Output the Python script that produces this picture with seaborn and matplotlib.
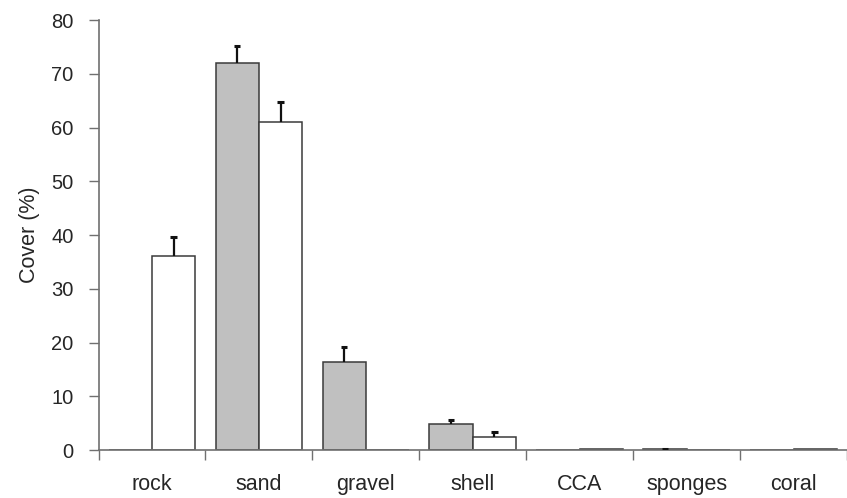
import matplotlib
matplotlib.use("Agg")
import matplotlib.pyplot as plt
import seaborn as sns
import pandas as pd
import numpy as np

categories = ["rock", "sand", "gravel", "shell", "CCA", "sponges", "coral"]
groups = ["A", "B"]
values_a = [0.0, 72.0, 16.4, 4.8, 0.0, 0.15, 0.0]
values_b = [36.1, 61.0, 0.0, 2.35, 0.12, 0.0, 0.15]
err_a = [0.0, 3.2, 2.8, 0.75, 0.0, 0.1, 0.0]
err_b = [3.5, 3.7, 0.0, 1.0, 0.0, 0.0, 0.0]

sns.set_theme(style="white")
plt.rcParams["font.family"] = ["Liberation Sans", "DejaVu Sans"]

df = pd.DataFrame({
    "category": categories * 2,
    "group": ["A"] * len(categories) + ["B"] * len(categories),
    "value": values_a + values_b,
    "err": err_a + err_b,
})

fig = plt.figure(figsize=(8.47, 4.98), dpi=100)
ax = fig.add_axes([98.5 / 847, 48 / 498, 748.5 / 847, 430 / 498])

sns.barplot(data=df, x="category", y="value", hue="group", order=categories,
            hue_order=groups, palette={"A": "#c0c0c0", "B": "#ffffff"},
            edgecolor="#3a3a3a", linewidth=1.1, width=0.81, errorbar=None,
            legend=False, ax=ax)

# error bars (upper only)
cap_half = 0.03
for container, g in zip(ax.containers, groups):
    sub = df[df["group"] == g].set_index("category").loc[categories]
    for p, h, e in zip(container.patches, sub["value"].values, sub["err"].values):
        if e <= 0:
            continue
        xc = p.get_x() + p.get_width() / 2
        ax.vlines(xc, h, h + e, colors="#111111", linewidth=1.6, zorder=3)
        ax.hlines(h + e, xc - cap_half, xc + cap_half, colors="#111111",
                  linewidth=2.2, zorder=3)

ax.set_xlim(-0.5, 6.405)
ax.set_ylim(0, 80)
ax.set_yticks(range(0, 81, 10))
ax.set_xlabel("")
ax.set_ylabel("Cover (%)", fontsize=15.5, labelpad=8)
ax.tick_params(axis="y", labelsize=14.5, direction="out", length=7, width=1,
               color="#707070", left=True, pad=11)
ax.tick_params(axis="x", which="major", length=0, labelsize=15.5, pad=17)
ax.set_xticks(np.arange(-0.5, 7.0, 1.0), minor=True)
ax.tick_params(axis="x", which="minor", direction="out", length=7, width=1,
               color="#707070", bottom=True)
for s in ["top", "right"]:
    ax.spines[s].set_visible(False)
for s in ["left", "bottom"]:
    ax.spines[s].set_color("#707070")
    ax.spines[s].set_linewidth(1.2)

fig.savefig("out.png", dpi=100)
